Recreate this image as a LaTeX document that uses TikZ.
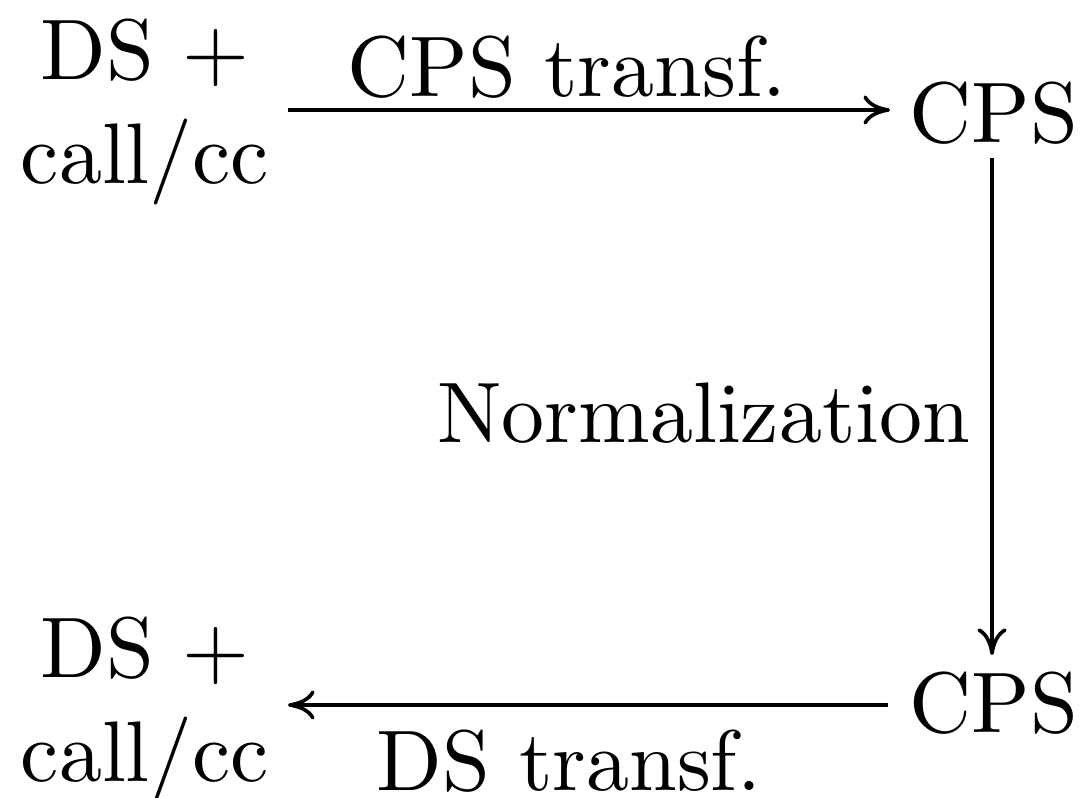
\documentclass[tikz,border=0pt]{standalone}
\usetikzlibrary{arrows.meta}
\begin{document}
\begin{tikzpicture}[x=0.1163pt,y=-0.1163pt,
  lbl/.style={inner sep=0pt,anchor=base},
  arr/.style={-{To[length=3.1pt,width=3.4pt]},line width=0.42pt}]
\useasboundingbox (0,0) rectangle (1086,798);
\node[lbl] (tl) at (145,80) {\begin{tabular}[t]{@{}c@{}}DS +\\call/cc\end{tabular}};
\node[lbl] (tr) at (994,143) {CPS};
\node[lbl] (br) at (994,733) {CPS};
\node[lbl] (bl) at (145,678) {\begin{tabular}[t]{@{}c@{}}DS +\\call/cc\end{tabular}};
\coordinate (a1s) at (288,110);
\coordinate (a1e) at (890,110);
\coordinate (a2s) at (992,158);
\coordinate (a2e) at (992,655);
\coordinate (a3s) at (888,705);
\coordinate (a3e) at (288,705);
\draw[arr] (a1s) -- (a1e);
\draw[arr] (a2s) -- (a2e);
\draw[arr] (a3s) -- (a3e);
\node[lbl] (l1) at (567,97) {CPS transf.};
\node[lbl,anchor=base east] (l2) at (972,443) {Normalization};
\node[lbl] (l3) at (569,790) {DS transf.};
\end{tikzpicture}
\end{document}
